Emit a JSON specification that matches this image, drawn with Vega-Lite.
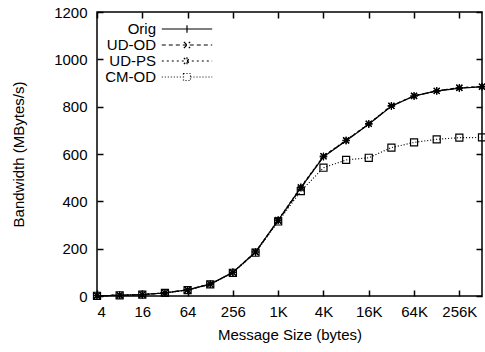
{
  "$schema": "https://vega.github.io/schema/vega-lite/v6.json",
  "width": 385,
  "height": 284,
  "autosize": {"type": "none"},
  "padding": {"left": 97, "top": 12, "right": 3, "bottom": 56},
  "config": {
    "font": "Liberation Sans",
    "view": {"stroke": "black", "strokeWidth": 1.5},
    "axis": {
      "grid": false,
      "domain": false,
      "ticks": true,
      "tickColor": "black",
      "tickWidth": 1.5,
      "tickSize": 6,
      "offset": -6,
      "zindex": 1,
      "labelColor": "black",
      "titleColor": "black",
      "labelFontSize": 15,
      "titleFontSize": 15,
      "titleFontWeight": "normal"
    }
  },
  "data": {
    "values": [
      {"size": 4, "series": "Orig", "bw": 1}, {"size": 8, "series": "Orig", "bw": 3}, {"size": 16, "series": "Orig", "bw": 6}, {"size": 32, "series": "Orig", "bw": 13}, {"size": 64, "series": "Orig", "bw": 26}, {"size": 128, "series": "Orig", "bw": 50}, {"size": 256, "series": "Orig", "bw": 100}, {"size": 512, "series": "Orig", "bw": 186}, {"size": 1024, "series": "Orig", "bw": 320}, {"size": 2048, "series": "Orig", "bw": 458}, {"size": 4096, "series": "Orig", "bw": 588}, {"size": 8192, "series": "Orig", "bw": 656}, {"size": 16384, "series": "Orig", "bw": 726}, {"size": 32768, "series": "Orig", "bw": 802}, {"size": 65536, "series": "Orig", "bw": 845}, {"size": 131072, "series": "Orig", "bw": 866}, {"size": 262144, "series": "Orig", "bw": 878}, {"size": 524288, "series": "Orig", "bw": 884},
      {"size": 4, "series": "UD-OD", "bw": 1}, {"size": 8, "series": "UD-OD", "bw": 3}, {"size": 16, "series": "UD-OD", "bw": 6}, {"size": 32, "series": "UD-OD", "bw": 13}, {"size": 64, "series": "UD-OD", "bw": 26}, {"size": 128, "series": "UD-OD", "bw": 50}, {"size": 256, "series": "UD-OD", "bw": 99}, {"size": 512, "series": "UD-OD", "bw": 185}, {"size": 1024, "series": "UD-OD", "bw": 318}, {"size": 2048, "series": "UD-OD", "bw": 455}, {"size": 4096, "series": "UD-OD", "bw": 590}, {"size": 8192, "series": "UD-OD", "bw": 657}, {"size": 16384, "series": "UD-OD", "bw": 727}, {"size": 32768, "series": "UD-OD", "bw": 803}, {"size": 65536, "series": "UD-OD", "bw": 846}, {"size": 131072, "series": "UD-OD", "bw": 867}, {"size": 262144, "series": "UD-OD", "bw": 880}, {"size": 524288, "series": "UD-OD", "bw": 884},
      {"size": 4, "series": "UD-PS", "bw": 1}, {"size": 8, "series": "UD-PS", "bw": 3}, {"size": 16, "series": "UD-PS", "bw": 6}, {"size": 32, "series": "UD-PS", "bw": 13}, {"size": 64, "series": "UD-PS", "bw": 26}, {"size": 128, "series": "UD-PS", "bw": 50}, {"size": 256, "series": "UD-PS", "bw": 100}, {"size": 512, "series": "UD-PS", "bw": 186}, {"size": 1024, "series": "UD-PS", "bw": 321}, {"size": 2048, "series": "UD-PS", "bw": 460}, {"size": 4096, "series": "UD-PS", "bw": 591}, {"size": 8192, "series": "UD-PS", "bw": 658}, {"size": 16384, "series": "UD-PS", "bw": 728}, {"size": 32768, "series": "UD-PS", "bw": 804}, {"size": 65536, "series": "UD-PS", "bw": 845}, {"size": 131072, "series": "UD-PS", "bw": 867}, {"size": 262144, "series": "UD-PS", "bw": 880}, {"size": 524288, "series": "UD-PS", "bw": 885},
      {"size": 4, "series": "CM-OD", "bw": 1}, {"size": 8, "series": "CM-OD", "bw": 3}, {"size": 16, "series": "CM-OD", "bw": 6}, {"size": 32, "series": "CM-OD", "bw": 13}, {"size": 64, "series": "CM-OD", "bw": 25}, {"size": 128, "series": "CM-OD", "bw": 49}, {"size": 256, "series": "CM-OD", "bw": 98}, {"size": 512, "series": "CM-OD", "bw": 183}, {"size": 1024, "series": "CM-OD", "bw": 315}, {"size": 2048, "series": "CM-OD", "bw": 443}, {"size": 4096, "series": "CM-OD", "bw": 542}, {"size": 8192, "series": "CM-OD", "bw": 575}, {"size": 16384, "series": "CM-OD", "bw": 584}, {"size": 32768, "series": "CM-OD", "bw": 627}, {"size": 65536, "series": "CM-OD", "bw": 649}, {"size": 131072, "series": "CM-OD", "bw": 662}, {"size": 262144, "series": "CM-OD", "bw": 669}, {"size": 524288, "series": "CM-OD", "bw": 670}
    ]
  },
  "layer": [
    {
      "mark": {"type": "line", "color": "black", "strokeWidth": 1.2},
      "encoding": {
        "x": {
          "field": "size", "type": "quantitative",
          "scale": {"type": "log", "base": 2, "domain": [4, 524288]},
          "axis": {
            "orient": "bottom",
            "values": [4, 16, 64, 256, 1024, 4096, 16384, 65536, 262144],
            "labelExpr": "datum.value >= 1024 ? (datum.value / 1024) + 'K' : datum.value",
            "title": "Message Size (bytes)",
            "labelPadding": 8,
            "titlePadding": 8
          }
        },
        "y": {
          "field": "bw", "type": "quantitative",
          "scale": {"domain": [0, 1200]},
          "axis": {
            "orient": "left",
            "values": [0, 200, 400, 600, 800, 1000, 1200],
            "format": "d",
            "title": "Bandwidth (MBytes/s)",
            "labelPadding": 10,
            "titlePadding": 27
          }
        },
        "strokeDash": {
          "field": "series", "type": "nominal",
          "scale": {
            "domain": ["Orig", "UD-OD", "UD-PS", "CM-OD"],
            "range": [[1, 0], [4, 3], [2, 3], [1, 2]]
          },
          "legend": {
            "orient": "none",
            "legendX": 82,
            "legendY": 9,
            "title": null,
            "padding": 0,
            "symbolSize": 196,
            "symbolStrokeWidth": 1.2,
            "symbolStrokeColor": "black",
            "labelAlign": "right",
            "labelOffset": -39,
            "labelFontSize": 15,
            "labelColor": "black",
            "rowPadding": -1,
            "encode": {
              "symbols": {
                "update": {
                  "shape": {"signal": "datum.value === 'Orig' ? 'M-3.6,0H3.6M0,-0.55V0.55' : datum.value === 'UD-OD' ? 'M-3.6,0H3.6M-0.45,-0.45L0.45,0.45M-0.45,0.45L0.45,-0.45' : datum.value === 'UD-PS' ? 'M-3.6,0H3.6M0,-0.55V0.55M-0.45,-0.45L0.45,0.45M-0.45,0.45L0.45,-0.45' : 'M-3.6,0H-0.5M0.5,0H3.6M-0.5,-0.5H0.5V0.5H-0.5Z'"},
                  "fill": {"value": "transparent"},
                  "stroke": {"value": "black"}
                }
              }
            }
          }
        }
      }
    },
    {
      "transform": [{"filter": "datum.series === 'Orig'"}],
      "mark": {"type": "point", "filled": false, "stroke": "black", "strokeWidth": 1.2, "size": 56, "opacity": 1, "shape": "M-1,0H1M0,-1V1"},
      "encoding": {
        "x": {"field": "size", "type": "quantitative", "axis": null},
        "y": {"field": "bw", "type": "quantitative", "axis": null}
      }
    },
    {
      "transform": [{"filter": "datum.series === 'UD-OD'"}],
      "mark": {"type": "point", "filled": false, "stroke": "black", "strokeWidth": 1.2, "size": 56, "opacity": 1, "shape": "M-0.8,-0.8L0.8,0.8M-0.8,0.8L0.8,-0.8"},
      "encoding": {
        "x": {"field": "size", "type": "quantitative", "axis": null},
        "y": {"field": "bw", "type": "quantitative", "axis": null}
      }
    },
    {
      "transform": [{"filter": "datum.series === 'UD-PS'"}],
      "mark": {"type": "point", "filled": false, "stroke": "black", "strokeWidth": 1.2, "size": 56, "opacity": 1, "shape": "M-1,0H1M0,-1V1M-0.8,-0.8L0.8,0.8M-0.8,0.8L0.8,-0.8"},
      "encoding": {
        "x": {"field": "size", "type": "quantitative", "axis": null},
        "y": {"field": "bw", "type": "quantitative", "axis": null}
      }
    },
    {
      "transform": [{"filter": "datum.series === 'CM-OD'"}],
      "mark": {"type": "point", "filled": false, "stroke": "black", "strokeWidth": 1.2, "size": 50, "opacity": 1, "shape": "M-1,-1H1V1H-1Z"},
      "encoding": {
        "x": {"field": "size", "type": "quantitative", "axis": null},
        "y": {"field": "bw", "type": "quantitative", "axis": null}
      }
    },
    {
      "mark": {"type": "point", "opacity": 0},
      "encoding": {
        "x": {
          "field": "size", "type": "quantitative",
          "axis": {"orient": "top", "values": [4, 16, 64, 256, 1024, 4096, 16384, 65536, 262144], "labels": false, "title": null}
        },
        "y": {
          "field": "bw", "type": "quantitative",
          "axis": {"orient": "right", "values": [0, 200, 400, 600, 800, 1000, 1200], "labels": false, "title": null}
        }
      }
    }
  ],
  "resolve": {"axis": {"x": "independent", "y": "independent"}}
}
